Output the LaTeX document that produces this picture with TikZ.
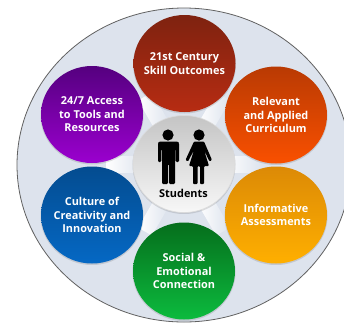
\documentclass[tikz,border=0pt]{standalone}
\usepackage{fontspec}
\setmainfont{Open Sans}
\usetikzlibrary{shapes.geometric}
\definecolor{bgdisc}{HTML}{DDE3ED}
\definecolor{skilltop}{HTML}{7E2210}\definecolor{skillbot}{HTML}{B72C12}
\definecolor{reltop}{HTML}{B93A03}\definecolor{relbot}{HTML}{F95000}
\definecolor{inftop}{HTML}{DC8A06}\definecolor{infbot}{HTML}{FFAF00}
\definecolor{soctop}{HTML}{056E1C}\definecolor{socbot}{HTML}{0CBB3E}
\definecolor{cultop}{HTML}{044C90}\definecolor{culbot}{HTML}{0568C4}
\definecolor{acctop}{HTML}{55007F}\definecolor{accbot}{HTML}{9B00CF}
\tikzset{
  disc/.style={ellipse,minimum width=102pt,minimum height=97pt,inner sep=-20pt,align=center,
    text=white,font=\fontsize{10.9}{13.5}\selectfont\bfseries,
    execute at begin node={\rule{0pt}{11.5pt}}},
  dropshade/.style={fill=black,opacity=0.12},
  spoke/.style={left color=white,right color=bgdisc,draw=none},
  figure/.style={fill=black,draw=none}
}
\begin{document}
\begin{tikzpicture}[x=1pt,y=-1pt]
\clip (0,0) rectangle (344,322);
\fill[white] (0,0) rectangle (344,322);
\node[ellipse,minimum width=334pt,minimum height=314pt,inner sep=0pt,fill=bgdisc,draw=black!62,line width=0.8pt] (outer) at (184,165) {};
% spokes between the discs
\foreach \ang in {0,60,120,180,240,300}{
  \begin{scope}[shift={(184,164)},rotate=\ang]
    \shade[spoke] (40,-8) -- (78,-8) -- (78,8) -- (40,8) -- cycle;
  \end{scope}
}
% soft shadows
\foreach \cx/\cy in {184.5/64.5,276/116,276/216,184/272,92/216,92/115.5,184/165}{
  \fill[dropshade] (\cx,\cy) ellipse (51.5pt and 49pt);
}
\node[ellipse,minimum width=102pt,minimum height=97pt,inner sep=0pt,top color=black!23,bottom color=black!3,draw=black!14,line width=0.6pt] (center) at (184,164) {};
\node[disc,top color=skilltop,bottom color=skillbot] (skill) at (184.5,63.5) {21st Century\\Skill Outcomes};
\node[disc,top color=reltop,bottom color=relbot] (relevant) at (276,115) {Relevant\\and Applied\\Curriculum};
\node[disc,top color=inftop,bottom color=infbot] (informative) at (276,215) {Informative\\Assessments};
\node[disc,top color=soctop,bottom color=socbot] (social) at (184,271) {Social \&\\Emotional\\Connection};
\node[disc,top color=cultop,bottom color=culbot] (culture) at (92,215) {Culture of\\Creativity and\\Innovation};
\node[disc,top color=acctop,bottom color=accbot] (access) at (92,114.5) {24/7 Access\\to Tools and\\Resources};
\node[text=black,font=\fontsize{10.9}{13}\selectfont\bfseries,inner sep=0pt] (students) at (183.5,193) {Students};
% man
\fill[figure] (168,135) circle (5.6pt);
\fill[figure,rounded corners=1.2pt] (159,141.5) -- (178,141.5) -- (179,143) -- (179,162) -- (175.6,162) -- (175.6,149) -- (175,149) -- (175,184) -- (169,184) -- (169,164) -- (168,164) -- (168,184) -- (162,184) -- (162,149) -- (161.4,149) -- (161.4,162) -- (158,162) -- (158,143) -- cycle;
% woman
\fill[figure] (199,135) circle (5.6pt);
\fill[figure,rounded corners=1pt] (194,141.5) -- (204,141.5) -- (212,160) -- (209.5,161.5) -- (204,150) -- (209,166) -- (204,166) -- (204,184) -- (200,184) -- (200,166) -- (197.5,166) -- (197.5,184) -- (193,184) -- (193,166) -- (189,166) -- (194,150) -- (188,161.5) -- (185.5,160) -- cycle;
\end{tikzpicture}
\end{document}
